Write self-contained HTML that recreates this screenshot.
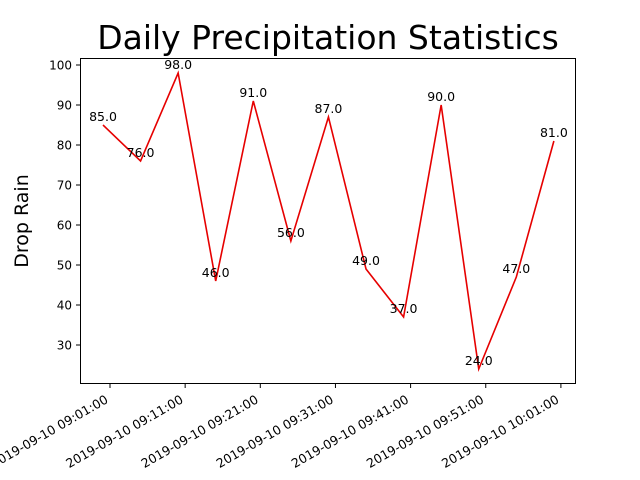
<!DOCTYPE html>
<html><head><meta charset="utf-8"><style>
body{margin:0;background:#fff;}
svg{display:block;font-family:"DejaVu Sans","Liberation Sans",sans-serif;}
</style></head><body>
<svg id="chart" width="640" height="480">
<rect width="640" height="480" fill="#fff"/>
<text x="328" y="49" font-size="33" text-anchor="middle">Daily Precipitation Statistics</text>
<text transform="translate(28,221) rotate(-90)" font-size="19" text-anchor="middle">Drop Rain</text>
<g id="plot"></g>
<rect x="80.5" y="58.5" width="495" height="325" fill="none" stroke="#000" stroke-width="1"/>
</svg>
<script>
const values = [85, 76, 98, 46, 91, 56, 87, 49, 37, 90, 24, 47, 81];
const startSeconds = 9*3600 + 4;
const stepSeconds = 300;
const yTicks = [30, 40, 50, 60, 70, 80, 90, 100];
const xTickLabels = ["2019-09-10 09:01:00","2019-09-10 09:11:00","2019-09-10 09:21:00","2019-09-10 09:31:00","2019-09-10 09:41:00","2019-09-10 09:51:00","2019-09-10 10:01:00"];
const xTickSeconds = [9*3600+60, 9*3600+660, 9*3600+1260, 9*3600+1860, 9*3600+2460, 9*3600+3060, 10*3600+60];

const NS = "http://www.w3.org/2000/svg";
const g = document.getElementById('plot');
function x(s){ return 110 + (s - (9*3600+60)) * 75.15/600; }
function y(v){ return 65 + (100 - v) * 4; }
function mk(tag, attrs){ const e=document.createElementNS(NS,tag); for(const k in attrs) e.setAttribute(k, attrs[k]); g.appendChild(e); return e; }

yTicks.forEach(v=>{
  const t = mk('line',{x1:76,x2:80,y1:y(v),y2:y(v),stroke:'#000'});
  
  
  const l = mk('text',{x:72,y:y(v)+4.5,'font-size':12,'text-anchor':'end'});
  l.textContent = v;
  
  
});
xTickSeconds.forEach((s,i)=>{
  const t = mk('line',{x1:x(s),x2:x(s),y1:384,y2:388,stroke:'#000'});
  
  
  const l = mk('text',{transform:`translate(${x(s)-1},${402}) rotate(-30)`,'font-size':12.5,'text-anchor':'end'});
  l.textContent = xTickLabels[i];
  
  
});
const pts = values.map((v,i)=>[x(startSeconds+i*stepSeconds), y(v)]);
const line = mk('polyline',{points:pts.map(p=>p.join(',')).join(' '),fill:'none',stroke:'#e60000','stroke-width':1.6});


values.forEach((v,i)=>{
  const l = mk('text',{x:pts[i][0],y:pts[i][1]-4,'font-size':12.5,'text-anchor':'middle'});
  l.textContent = v.toFixed(1);
  
  
});
</script>
</body></html>
